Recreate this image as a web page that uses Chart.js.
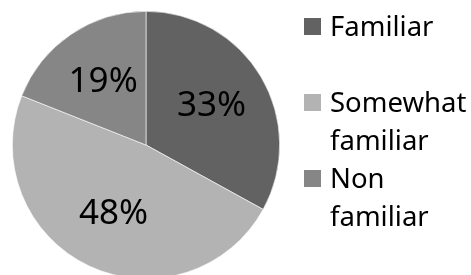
<!DOCTYPE html>
<html>
<head>
<meta charset="utf-8">
<script src="https://cdn.jsdelivr.net/npm/chart.js@4"></script>
<style>
  html, body { margin: 0; padding: 0; background: #fff; overflow: hidden; }
  canvas { display: block; }
</style>
</head>
<body>
<canvas id="pie" width="471" height="290"></canvas>
<script>
const labels = ["Familiar", "Somewhat familiar", "Non familiar"];
const values = [33, 48, 19];
const colors = ["#626262", "#b3b3b3", "#868686"];

const FONT = "'Noto Sans', sans-serif";

// percent labels inside each slice
const sliceLabels = {
  id: "sliceLabels",
  afterDatasetsDraw(chart) {
    const ctx = chart.ctx;
    const meta = chart.getDatasetMeta(0);
    const total = values.reduce((a, b) => a + b, 0);
    ctx.save();
    ctx.font = "35px " + FONT;
    ctx.fillStyle = "#000";
    ctx.textAlign = "center";
    ctx.textBaseline = "middle";
    meta.data.forEach((arc, i) => {
      const mid = (arc.startAngle + arc.endAngle) / 2;
      const r = arc.outerRadius * 0.57;
      const x = arc.x + Math.cos(mid) * r;
      const y = arc.y + Math.sin(mid) * r;
      ctx.fillText(Math.round(values[i] / total * 100) + "%", x, y);
    });
    ctx.restore();
  }
};

// legend on the right, one word per line like the original
const sideLegend = {
  id: "sideLegend",
  afterDraw(chart) {
    const ctx = chart.ctx;
    const lineH = 38;
    ctx.save();
    ctx.font = "27.5px " + FONT;
    ctx.textBaseline = "alphabetic";
    labels.forEach((label, i) => {
      const base = 36 + i * 2 * lineH;
      ctx.fillStyle = colors[i];
      ctx.fillRect(304, base - 18, 17, 17);
      ctx.fillStyle = "#000";
      label.split(" ").forEach((word, j) => {
        ctx.fillText(word, 330, base + j * lineH);
      });
    });
    ctx.restore();
  }
};

new Chart(document.getElementById("pie"), {
  type: "pie",
  data: {
    labels: labels,
    datasets: [
      {
        data: values,
        backgroundColor: colors,
        borderColor: "#ffffff",
        borderWidth: 0.6,
      },
    ],
  },
  options: {
    responsive: false,
    animation: false,
    layout: {
      padding: { left: 12, top: 11, right: 191, bottom: 11 },
    },
    plugins: {
      legend: { display: false },
      tooltip: { enabled: false },
    },
  },
  plugins: [sliceLabels, sideLegend],
});
</script>
</body>
</html>
